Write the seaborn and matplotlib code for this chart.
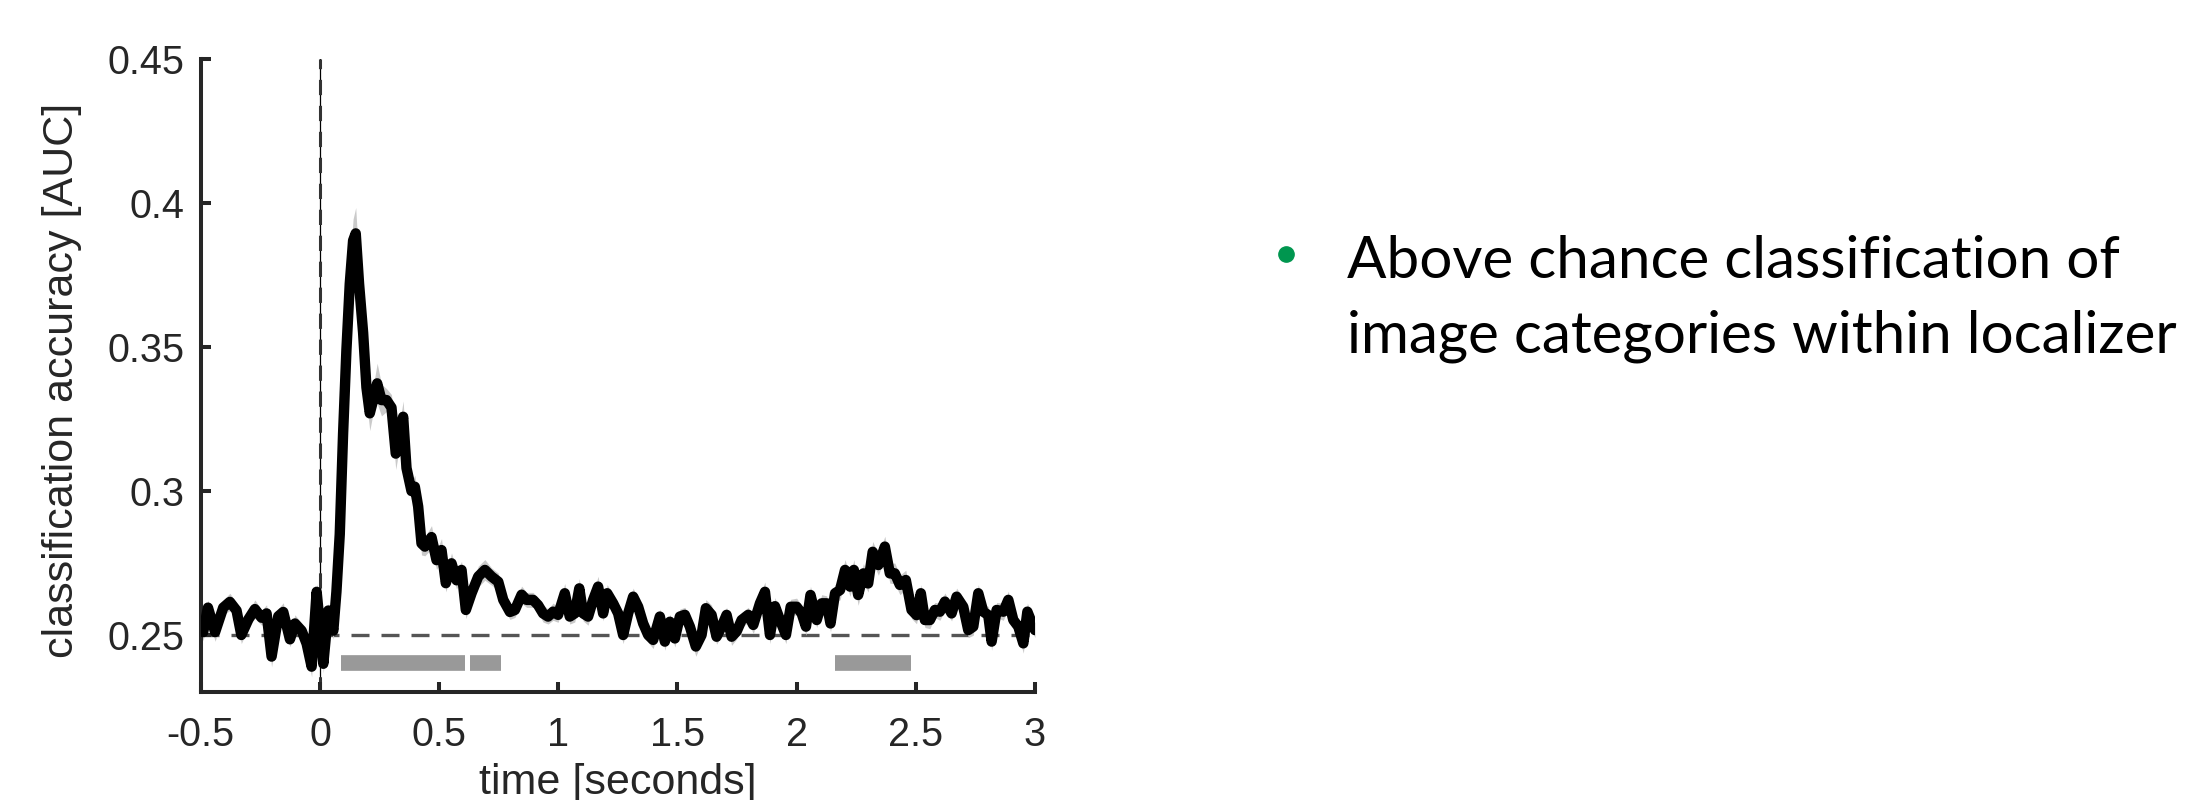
import numpy as np
import pandas as pd
import matplotlib
matplotlib.use("Agg")
import matplotlib.pyplot as plt
from matplotlib.lines import Line2D
import seaborn as sns

# ---------------- data ----------------
time_s = [
    -0.500, -0.490, -0.470, -0.440, -0.406, -0.378, -0.350, -0.330, -0.300, -0.273,
    -0.245, -0.224, -0.203, -0.175, -0.154, -0.126, -0.105, -0.077, -0.056, -0.035,
    -0.014, 0.000, 0.014, 0.035, 0.056, 0.069, 0.083, 0.097, 0.111, 0.125,
    0.139, 0.150, 0.164, 0.181, 0.195, 0.209, 0.223, 0.240, 0.258, 0.279,
    0.300, 0.318, 0.335, 0.349, 0.363, 0.384, 0.398, 0.412, 0.426, 0.440,
    0.468, 0.489, 0.510, 0.528, 0.552, 0.573, 0.594, 0.612, 0.636, 0.664,
    0.692, 0.720, 0.748, 0.769, 0.797, 0.818, 0.846, 0.867, 0.894, 0.915,
    0.936, 0.957, 0.978, 0.999, 1.027, 1.048, 1.069, 1.088, 1.104, 1.125,
    1.146, 1.167, 1.188, 1.205, 1.230, 1.251, 1.272, 1.293, 1.314, 1.335,
    1.356, 1.377, 1.398, 1.426, 1.447, 1.468, 1.489, 1.510, 1.531, 1.552,
    1.577, 1.601, 1.619, 1.643, 1.664, 1.685, 1.706, 1.727, 1.748, 1.769,
    1.797, 1.818, 1.846, 1.867, 1.888, 1.909, 1.930, 1.955, 1.975, 2.000,
    2.021, 2.039, 2.058, 2.084, 2.105, 2.126, 2.142, 2.161, 2.182, 2.203,
    2.224, 2.240, 2.258, 2.280, 2.300, 2.319, 2.343, 2.370, 2.391, 2.412,
    2.433, 2.458, 2.482, 2.503, 2.521, 2.538, 2.559, 2.580, 2.601, 2.622,
    2.650, 2.671, 2.699, 2.720, 2.741, 2.762, 2.783, 2.804, 2.818, 2.839,
    2.867, 2.888, 2.909, 2.930, 2.951, 2.968, 2.993, 3.000,
]
auc_mean = [
    0.2535, 0.2510, 0.2595, 0.2510, 0.2595, 0.2615, 0.2585, 0.2500, 0.2555, 0.2590,
    0.2560, 0.2575, 0.2425, 0.2565, 0.2580, 0.2485, 0.2540, 0.2515, 0.2470, 0.2390,
    0.2650, 0.2530, 0.2400, 0.2585, 0.2515, 0.2650, 0.2850, 0.3200, 0.3490, 0.3720,
    0.3870, 0.3895, 0.3720, 0.3550, 0.3360, 0.3270, 0.3316, 0.3374, 0.3316, 0.3316,
    0.3290, 0.3130, 0.3200, 0.3258, 0.3080, 0.3000, 0.3015, 0.2946, 0.2818, 0.2807,
    0.2840, 0.2760, 0.2795, 0.2680, 0.2749, 0.2690, 0.2726, 0.2587, 0.2645, 0.2703,
    0.2726, 0.2703, 0.2685, 0.2622, 0.2580, 0.2587, 0.2640, 0.2622, 0.2622, 0.2604,
    0.2575, 0.2564, 0.2581, 0.2570, 0.2645, 0.2564, 0.2575, 0.2662, 0.2575, 0.2564,
    0.2622, 0.2668, 0.2575, 0.2645, 0.2610, 0.2575, 0.2500, 0.2575, 0.2633, 0.2598,
    0.2540, 0.2500, 0.2483, 0.2564, 0.2477, 0.2546, 0.2488, 0.2564, 0.2570, 0.2529,
    0.2460, 0.2500, 0.2593, 0.2570, 0.2494, 0.2529, 0.2570, 0.2494, 0.2512, 0.2552,
    0.2570, 0.2535, 0.2610, 0.2650, 0.2500, 0.2600, 0.2552, 0.2500, 0.2598, 0.2598,
    0.2575, 0.2529, 0.2639, 0.2552, 0.2610, 0.2610, 0.2540, 0.2645, 0.2656, 0.2726,
    0.2668, 0.2726, 0.2639, 0.2714, 0.2679, 0.2789, 0.2743, 0.2807, 0.2714, 0.2714,
    0.2674, 0.2691, 0.2587, 0.2569, 0.2645, 0.2552, 0.2552, 0.2587, 0.2581, 0.2616,
    0.2575, 0.2633, 0.2598, 0.2517, 0.2529, 0.2645, 0.2581, 0.2569, 0.2477, 0.2587,
    0.2581, 0.2622, 0.2552, 0.2529, 0.2471, 0.2581, 0.2529, 0.2517,
]
auc_sem = [
    0.0026, 0.0030, 0.0026, 0.0032, 0.0026, 0.0030, 0.0026, 0.0030, 0.0026, 0.0032,
    0.0026, 0.0030, 0.0036, 0.0026, 0.0032, 0.0026, 0.0030, 0.0026, 0.0030, 0.0036,
    0.0030, 0.0026, 0.0032, 0.0026, 0.0030, 0.0030, 0.0036, 0.0045, 0.0055, 0.0065,
    0.0075, 0.0090, 0.0065, 0.0055, 0.0045, 0.0060, 0.0045, 0.0070, 0.0055, 0.0040,
    0.0045, 0.0055, 0.0040, 0.0055, 0.0040, 0.0032, 0.0040, 0.0032, 0.0040, 0.0032,
    0.0040, 0.0032, 0.0040, 0.0030, 0.0036, 0.0030, 0.0030, 0.0030, 0.0030, 0.0036,
    0.0036, 0.0030, 0.0030, 0.0026, 0.0026, 0.0026, 0.0030, 0.0026, 0.0026, 0.0026,
    0.0030, 0.0026, 0.0030, 0.0026, 0.0034, 0.0026, 0.0030, 0.0034, 0.0026, 0.0030,
    0.0026, 0.0036, 0.0026, 0.0030, 0.0026, 0.0030, 0.0030, 0.0026, 0.0030, 0.0026,
    0.0030, 0.0026, 0.0030, 0.0026, 0.0030, 0.0026, 0.0030, 0.0026, 0.0026, 0.0030,
    0.0034, 0.0026, 0.0030, 0.0034, 0.0026, 0.0030, 0.0026, 0.0030, 0.0026, 0.0026,
    0.0026, 0.0030, 0.0030, 0.0034, 0.0030, 0.0030, 0.0026, 0.0030, 0.0026, 0.0030,
    0.0026, 0.0030, 0.0030, 0.0026, 0.0030, 0.0026, 0.0030, 0.0030, 0.0034, 0.0036,
    0.0034, 0.0036, 0.0036, 0.0034, 0.0030, 0.0036, 0.0036, 0.0036, 0.0034, 0.0036,
    0.0034, 0.0034, 0.0030, 0.0030, 0.0030, 0.0026, 0.0030, 0.0026, 0.0030, 0.0030,
    0.0026, 0.0030, 0.0030, 0.0026, 0.0030, 0.0030, 0.0026, 0.0030, 0.0030, 0.0026,
    0.0030, 0.0030, 0.0026, 0.0030, 0.0034, 0.0030, 0.0026, 0.0026,
]
n = min(len(time_s), len(auc_mean), len(auc_sem))
time_s, auc_mean, auc_sem = time_s[:n], auc_mean[:n], auc_sem[:n]

# significant clusters (start, end) in seconds
sig_starts = [0.088, 0.629, 2.160]
sig_ends = [0.608, 0.758, 2.479]
sig_level = 0.2403
chance_level = 0.25

x_ticks = [-0.5, 0, 0.5, 1, 1.5, 2, 2.5, 3]
x_tick_labels = ["-0.5", "0", "0.5", "1", "1.5", "2", "2.5", "3"]
y_ticks = [0.25, 0.3, 0.35, 0.4, 0.45]
y_tick_labels = ["0.25", "0.3", "0.35", "0.4", "0.45"]

x_label = "time [seconds]"
y_label = "classification accuracy [AUC]"
bullet_lines = ["Above chance classification of", "image categories within localizer"]

# ---------------- figure ----------------
W, H = 2202, 800
fig = plt.figure(figsize=(W / 100, H / 100), dpi=100)
fig.patch.set_facecolor("white")
ax = fig.add_axes([200.8 / W, (H - 692) / H, (1035 - 200.8) / W, (692 - 59.2) / H])

df = pd.DataFrame({"time": time_s, "auc": auc_mean, "sem": auc_sem})

dark = "#262626"

# reference lines
ax.axvline(0, color="black", lw=0.9, zorder=1)
ax.axvline(0, color="#333333", lw=2.2, linestyle=(0, (5, 3.5)), zorder=1.1)
ax.axhline(chance_level, color="#555555", lw=2.4, linestyle=(0, (5.4, 3.6)), zorder=1.2)

# error band
ax.fill_between(df["time"], df["auc"] - df["sem"], df["auc"] + df["sem"],
                color="#cacaca", lw=0, zorder=2)

# mean line
sns.lineplot(data=df, x="time", y="auc", ax=ax, color="black", lw=7.5,
             estimator=None, sort=False, zorder=3,
             solid_joinstyle="round", solid_capstyle="round")

# significance bars
ax.hlines([sig_level] * len(sig_starts), sig_starts, sig_ends,
          color="#999999", lw=11.3, capstyle="butt", zorder=2.5)

ax.set_xlim(-0.5, 3.0)
ax.set_ylim(0.2302, 0.45)
sns.despine(ax=ax)
for s in ["left", "bottom"]:
    ax.spines[s].set_color(dark)
    ax.spines[s].set_linewidth(2.9)

ax.set_xticks(x_ticks)
ax.set_xticklabels(x_tick_labels)
ax.set_yticks(y_ticks)
ax.set_yticklabels(y_tick_labels)
ax.tick_params(axis="both", direction="in", length=7, width=2.9, color=dark,
               labelcolor=dark, labelsize=28.5)
ax.tick_params(axis="x", pad=17)
ax.tick_params(axis="y", pad=12)
for lab in ax.get_xticklabels() + ax.get_yticklabels():
    lab.set_fontfamily("Liberation Sans")

ax.set_xlabel(x_label, fontsize=31, color=dark, family="Liberation Sans", va="baseline")
ax.xaxis.set_label_coords(0.5, (692 - 794) / (692 - 59.2))
ax.set_ylabel(y_label, fontsize=31, color=dark, family="Liberation Sans")
ax.yaxis.set_label_coords((82 - 200.8) / (1035 - 200.8), (692 - 380.5) / (692 - 59.2))

# bullet text on the right
fig.add_artist(Line2D([1286 / W], [1 - 254 / H], marker="o", markersize=11,
                      color="#00964F", lw=0, transform=fig.transFigure))
fig.text(1347 / W, 1 - 278 / H, bullet_lines[0], fontsize=42, family="Lato",
         color="black", va="baseline", ha="left")
fig.text(1347 / W, 1 - 353 / H, bullet_lines[1], fontsize=42, family="Lato",
         color="black", va="baseline", ha="left")

fig.savefig("out.png", dpi=100, facecolor="white")
